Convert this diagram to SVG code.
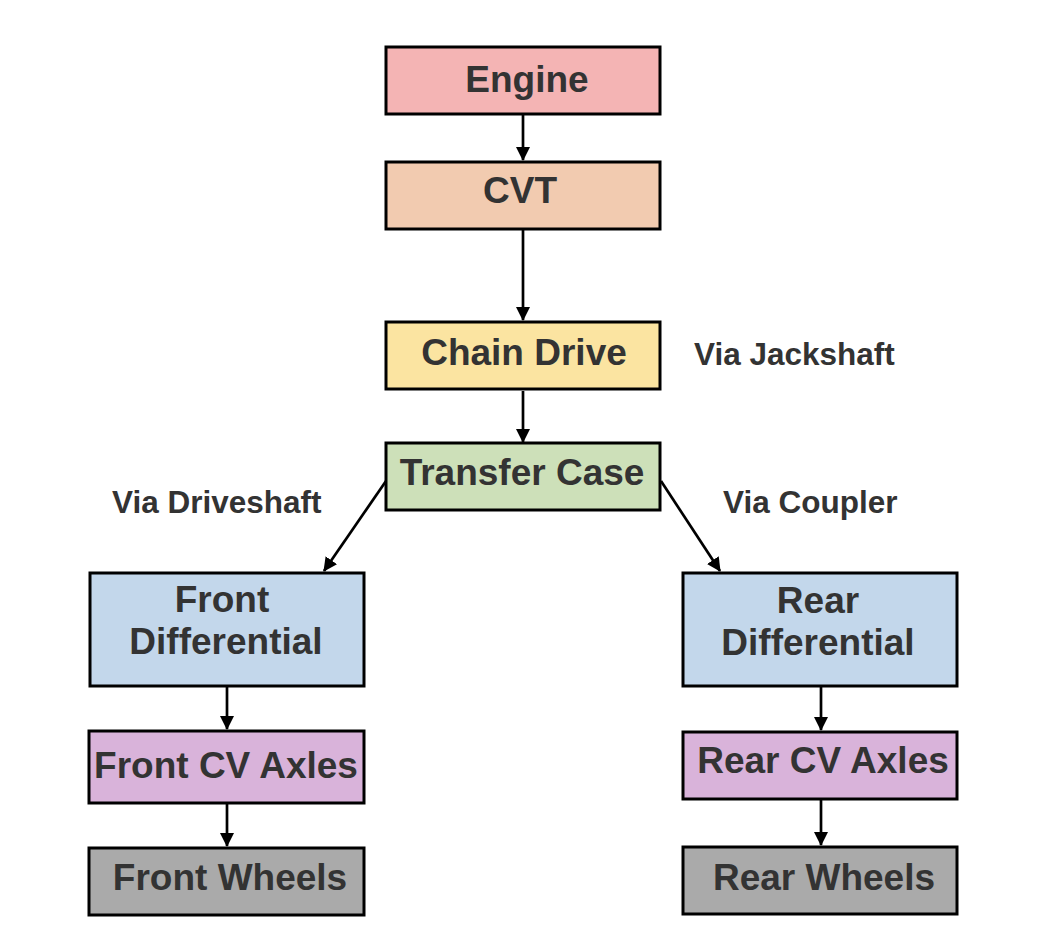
<svg xmlns="http://www.w3.org/2000/svg" width="1044" height="942" viewBox="0 0 1044 942">
<style>
.box{stroke:#000;stroke-width:3}
.lbl{font-family:"Liberation Sans",Arial,Helvetica,sans-serif;font-weight:bold;font-size:37px;fill:#333;text-anchor:middle}
.elbl{font-family:"Liberation Sans",Arial,Helvetica,sans-serif;font-weight:bold;font-size:31.5px;fill:#333;text-anchor:start}
.edge{stroke:#000;stroke-width:2.7;fill:none;marker-end:url(#ah)}
</style>
<defs>
<marker id="ah" markerUnits="userSpaceOnUse" markerWidth="14" markerHeight="14" viewBox="0 0 14 14" refX="13" refY="7" orient="auto">
<path d="M0,0 L14,7 L0,14 Z" fill="#000"/>
</marker>
</defs>
<rect width="1044" height="942" fill="#fff"/>
<g id="edges">
<line class="edge" x1="523" y1="115" x2="523" y2="160"/>
<line class="edge" x1="523" y1="230" x2="523" y2="320"/>
<line class="edge" x1="523" y1="391" x2="523" y2="442"/>
<line class="edge" x1="386" y1="481" x2="324" y2="571"/>
<line class="edge" x1="661" y1="481" x2="720" y2="571"/>
<line class="edge" x1="227" y1="687" x2="227" y2="729"/>
<line class="edge" x1="227" y1="804" x2="227" y2="846"/>
<line class="edge" x1="821" y1="687" x2="821" y2="730"/>
<line class="edge" x1="821" y1="800" x2="821" y2="845"/>
</g>
<g id="edge-labels">
<text class="elbl" x="694" y="365">Via Jackshaft</text>
<text class="elbl" x="112" y="513">Via Driveshaft</text>
<text class="elbl" x="723" y="513">Via Coupler</text>
</g>
<g id="engine">
<rect class="box" x="386" y="47" width="274" height="67" fill="#f4b4b4"/>
<text class="lbl" x="527" y="92">Engine</text>
</g>
<g id="cvt">
<rect class="box" x="386" y="162" width="274" height="67" fill="#f2cbb0"/>
<text class="lbl" x="520" y="203">CVT</text>
</g>
<g id="chain-drive">
<rect class="box" x="386" y="322" width="274" height="67" fill="#fbe4a1"/>
<text class="lbl" x="524" y="365">Chain Drive</text>
</g>
<g id="transfer-case">
<rect class="box" x="386" y="443" width="274" height="67" fill="#cde0b9"/>
<text class="lbl" x="522" y="485">Transfer Case</text>
</g>
<g id="front-differential">
<rect class="box" x="90" y="573" width="274" height="113" fill="#c3d7eb"/>
<text class="lbl" x="222" y="612">Front</text>
<text class="lbl" x="226" y="654">Differential</text>
</g>
<g id="rear-differential">
<rect class="box" x="683" y="573" width="274" height="113" fill="#c3d7eb"/>
<text class="lbl" x="818" y="613">Rear</text>
<text class="lbl" x="818" y="655">Differential</text>
</g>
<g id="front-cv-axles">
<rect class="box" x="89" y="731" width="275" height="72" fill="#d9b3da"/>
<text class="lbl" x="226" y="778">Front CV Axles</text>
</g>
<g id="rear-cv-axles">
<rect class="box" x="683" y="732" width="274" height="67" fill="#d9b3da"/>
<text class="lbl" x="823" y="773">Rear CV Axles</text>
</g>
<g id="front-wheels">
<rect class="box" x="89" y="848" width="275" height="67" fill="#aaaaaa"/>
<text class="lbl" x="230" y="890">Front Wheels</text>
</g>
<g id="rear-wheels">
<rect class="box" x="683" y="847" width="274" height="67" fill="#aaaaaa"/>
<text class="lbl" x="824" y="890">Rear Wheels</text>
</g>
</svg>
